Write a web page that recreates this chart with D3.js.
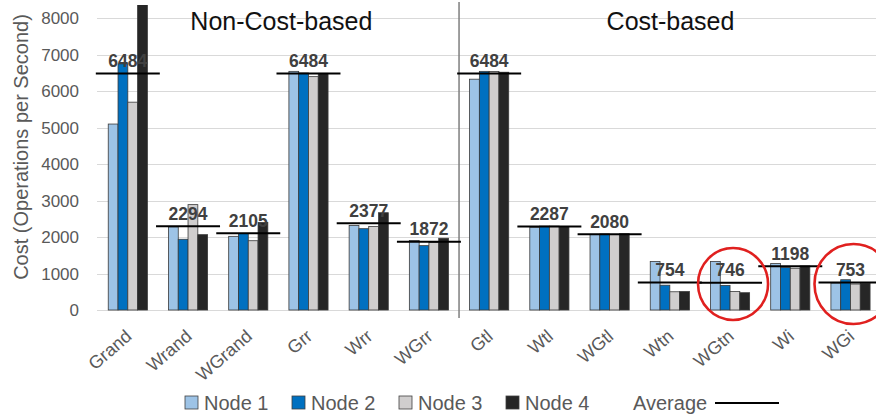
<!DOCTYPE html>
<html><head><meta charset="utf-8">
<script src="https://cdn.jsdelivr.net/npm/d3@7"></script>
<style>
html,body{margin:0;padding:0;background:#fff;}
svg{display:block;font-family:"Liberation Sans",Arial,sans-serif;}
</style></head>
<body><svg id="chart" width="876" height="418"></svg>
<script>
const categories = ["Grand","Wrand","WGrand","Grr","Wrr","WGrr","Gtl","Wtl","WGtl","Wtn","WGtn","Wi","WGi"];
const node1 = [5100, 2280, 2020, 6545, 2320, 1905, 6330, 2270, 2075, 1330, 1330, 1275, 740];
const node2 = [6750, 1940, 2100, 6500, 2230, 1765, 6545, 2300, 2085, 680, 675, 1165, 830];
const node3 = [5700, 2890, 1900, 6400, 2290, 1850, 6540, 2300, 2070, 500, 505, 1145, 712];
const node4 = [8390, 2066, 2400, 6491, 2668, 1968, 6521, 2278, 2090, 506, 474, 1207, 730];
const average = [6484, 2294, 2105, 6484, 2377, 1872, 6484, 2287, 2080, 754, 746, 1198, 753];
const seriesNames = ["Node 1","Node 2","Node 3","Node 4"];
const seriesColors = ["#9DC3E6","#0070C0","#D0CECE","#262626"];
const groupTitles = ["Non-Cost-based","Cost-based"];
const groupSizes = [6, 7];
const yTicks = [0,1000,2000,3000,4000,5000,6000,7000,8000];
const highlighted = ["WGtn","WGi"];
const yTitle = "Cost (Operations per Second)";
const avgName = "Average";

const series = [node1, node2, node3, node4];
const svg = d3.select("#chart");

const x = d3.scaleBand().domain(categories).range([97.7, 880.6]).paddingInner(0.35).paddingOuter(0.175);
const xs = d3.scaleBand().domain(d3.range(4)).range([0, x.bandwidth()]);
const y = d3.scaleLinear().domain([0, 8000]).range([310, 18.3]);
const cx = c => x(c) + x.bandwidth() / 2;

svg.append("defs").append("clipPath").attr("id","plotclip")
  .append("rect").attr("x", 90).attr("y", 5).attr("width", 800).attr("height", 320);

// gridlines
svg.append("g").selectAll("line").data(yTicks).join("line")
  .attr("x1", 97).attr("x2", 876)
  .attr("y1", d => Math.round(y(d)) + 0.5).attr("y2", d => Math.round(y(d)) + 0.5)
  .attr("stroke", "#D9D9D9").attr("stroke-width", 1);

// y tick labels
svg.append("g").selectAll("text").data(yTicks).join("text")
  .attr("x", 79).attr("y", d => y(d)).attr("dy", "0.36em")
  .attr("text-anchor", "end").attr("font-size", 17).attr("fill", "#595959")
  .text(d => d);

// y title
svg.append("text").attr("transform", "translate(28,147) rotate(-90)")
  .attr("text-anchor", "middle").attr("font-size", 20).attr("fill", "#595959").text(yTitle);

// separator
const sepX = x(categories[groupSizes[0]]) - x.step() * x.paddingInner() / 2;
svg.append("line").attr("x1", sepX).attr("x2", sepX).attr("y1", 2).attr("y2", 318)
  .attr("stroke", "#7F7F7F").attr("stroke-width", 1.5);

// group titles
let start = 0;
groupTitles.forEach((t, i) => {
  const c0 = categories[start], c1 = categories[start + groupSizes[i] - 1];
  const left = x(c0) - x.step() * x.paddingInner() / 2;
  const right = Math.min(876, x(c1) + x.bandwidth() + x.step() * x.paddingInner() / 2);
  svg.append("text").attr("x", (left + right) / 2 + 3).attr("y", 30)
    .attr("text-anchor", "middle").attr("font-size", 25).attr("fill", "#111").text(t);
  start += groupSizes[i];
});

// bars
const barsG = svg.append("g").attr("clip-path", "url(#plotclip)");
series.forEach((vals, si) => {
  barsG.append("g").selectAll("rect").data(categories).join("rect")
    .attr("x", c => x(c) + xs(si))
    .attr("y", (c, i) => y(vals[i]))
    .attr("width", xs.bandwidth())
    .attr("height", (c, i) => y(0) - y(vals[i]))
    .attr("fill", seriesColors[si])
    .attr("stroke", "#3A3A3A").attr("stroke-width", 0.8);
});

// average lines
svg.append("g").selectAll("line").data(categories).join("line")
  .attr("x1", c => cx(c) - 32).attr("x2", c => cx(c) + 32)
  .attr("y1", (c, i) => y(average[i])).attr("y2", (c, i) => y(average[i]))
  .attr("stroke", "#000").attr("stroke-width", 2);

// average labels
svg.append("g").selectAll("text").data(categories).join("text")
  .attr("x", c => cx(c)).attr("y", (c, i) => y(average[i]) - 6.5)
  .attr("text-anchor", "middle").attr("font-size", 17.5).attr("font-weight", "bold")
  .attr("fill", "#404040").text((c, i) => average[i]);

// x labels
svg.append("g").selectAll("text").data(categories).join("text")
  .attr("transform", c => `translate(${cx(c) + 5},338) rotate(-41)`)
  .attr("text-anchor", "end").attr("font-size", 18).attr("fill", "#595959")
  .text(c => c);

// red circles
svg.append("g").selectAll("ellipse").data(highlighted).join("ellipse")
  .attr("cx", c => cx(c) + 3).attr("cy", 284)
  .attr("rx", (c, i) => i === 0 ? 35 : 39).attr("ry", (c, i) => i === 0 ? 36 : 40)
  .attr("fill", "none").attr("stroke", "#E0201F").attr("stroke-width", 2.6);

// legend
const lg = svg.append("g");
seriesNames.forEach((n, i) => {
  const lx = 185 + i * 107;
  lg.append("rect").attr("x", lx).attr("y", 396).attr("width", 13).attr("height", 13)
    .attr("fill", seriesColors[i]).attr("stroke", "#404040").attr("stroke-width", 0.8);
  lg.append("text").attr("x", lx + 19).attr("y", 402.5).attr("dy", "0.36em")
    .attr("font-size", 20).attr("fill", "#595959").text(n);
});
lg.append("text").attr("x", 633).attr("y", 402.5).attr("dy", "0.36em")
  .attr("font-size", 20).attr("fill", "#595959").text(avgName);
lg.append("line").attr("x1", 715).attr("x2", 779).attr("y1", 403).attr("y2", 403)
  .attr("stroke", "#000").attr("stroke-width", 2);
</script></body></html>
